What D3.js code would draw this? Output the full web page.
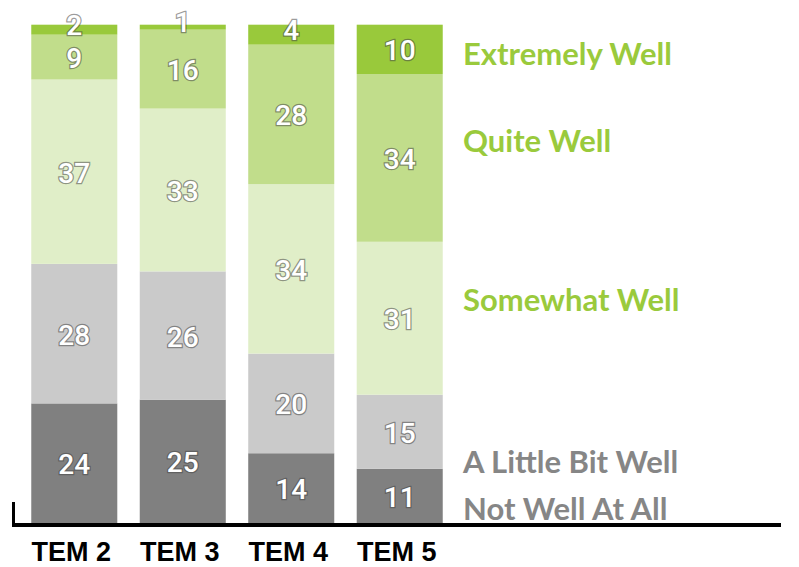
<!DOCTYPE html>
<html><head><meta charset="utf-8">
<script src="https://cdn.jsdelivr.net/npm/d3@7"></script>
<style>html,body{margin:0;padding:0;background:#fff;}svg{display:block;}</style>
</head><body>
<svg id="c" width="799" height="567"></svg>
<script>
const categories = ["TEM 2", "TEM 3", "TEM 4", "TEM 5"];
const seriesNames = ["Not Well At All", "A Little Bit Well", "Somewhat Well", "Quite Well", "Extremely Well"];
const notWell = [24, 25, 14, 11];
const littleBit = [28, 26, 20, 15];
const somewhat = [37, 33, 34, 31];
const quite = [9, 16, 28, 34];
const extremely = [2, 1, 4, 10];

const seriesValues = [notWell, littleBit, somewhat, quite, extremely];
const colors = ["#808080", "#cacaca", "#e0eec8", "#c1dd8b", "#99c93b"];
const legendColors = ["#868686", "#868686", "#9aca3c", "#9aca3c", "#9aca3c"];
const legendBaselines = [520, 473, 311, 152, 65];

const rows = categories.map((c, i) => {
  const r = {cat: c};
  seriesNames.forEach((s, k) => r[s] = seriesValues[k][i]);
  r.total = d3.sum(seriesValues, v => v[i]);
  return r;
});
const stack = d3.stack().keys(seriesNames).value((d, k) => d[k] / d.total);
const layers = stack(rows);

const svg = d3.select("#c");
const x = d3.scaleBand().domain(categories).range([10, 464]).paddingInner(0.207).paddingOuter(0.196);
const y = d3.scaleLinear().domain([0, 1]).range([523, 24.7]);

const g = svg.append("g");
layers.forEach((layer, k) => {
  g.selectAll(null).data(layer).enter().append("rect")
    .attr("x", d => x(d.data.cat))
    .attr("width", x.bandwidth())
    .attr("y", d => y(d[1]))
    .attr("height", d => y(d[0]) - y(d[1]))
    .attr("fill", colors[k]);
});

layers.forEach((layer, k) => {
  g.selectAll(null).data(layer).enter().append("text")
    .attr("x", d => x(d.data.cat) + x.bandwidth() / 2)
    .attr("y", d => (y(d[0]) + y(d[1])) / 2 + 10 - (y(d[0]) - y(d[1]) < 25 ? 5 : -1))
    .attr("text-anchor", "middle")
    .attr("font-family", "Roboto")
    .attr("font-weight", 500)
    .attr("font-size", 28)
    .attr("fill", "#fff")
    .attr("stroke", "rgba(70,70,70,0.55)")
    .attr("stroke-width", 2.5)
    .attr("paint-order", "stroke")
    .text(d => d.data[seriesNames[k]]);
});

// baseline axis
svg.append("line").attr("x1", 12).attr("x2", 781).attr("y1", 525).attr("y2", 525)
  .attr("stroke", "#000").attr("stroke-width", 4);
svg.append("line").attr("x1", 13.5).attr("x2", 13.5).attr("y1", 502).attr("y2", 527)
  .attr("stroke", "#000").attr("stroke-width", 3);

svg.selectAll(null).data(categories).enter().append("text")
  .attr("x", d => x(d) + x.bandwidth() / 2 - 3)
  .attr("y", 561)
  .attr("text-anchor", "middle")
  .attr("font-family", "Liberation Sans")
  .attr("font-weight", "bold")
  .attr("font-size", 27)
  .attr("fill", "#000")
  .text(d => d);

svg.selectAll(null).data(seriesNames).enter().append("text")
  .attr("x", 463)
  .attr("y", (d, k) => legendBaselines[k])
  .attr("font-family", "Lato")
  .attr("font-weight", "bold")
  .attr("font-size", 31)
  .attr("fill", (d, k) => legendColors[k])
  .text(d => d);
</script>
</body></html>
